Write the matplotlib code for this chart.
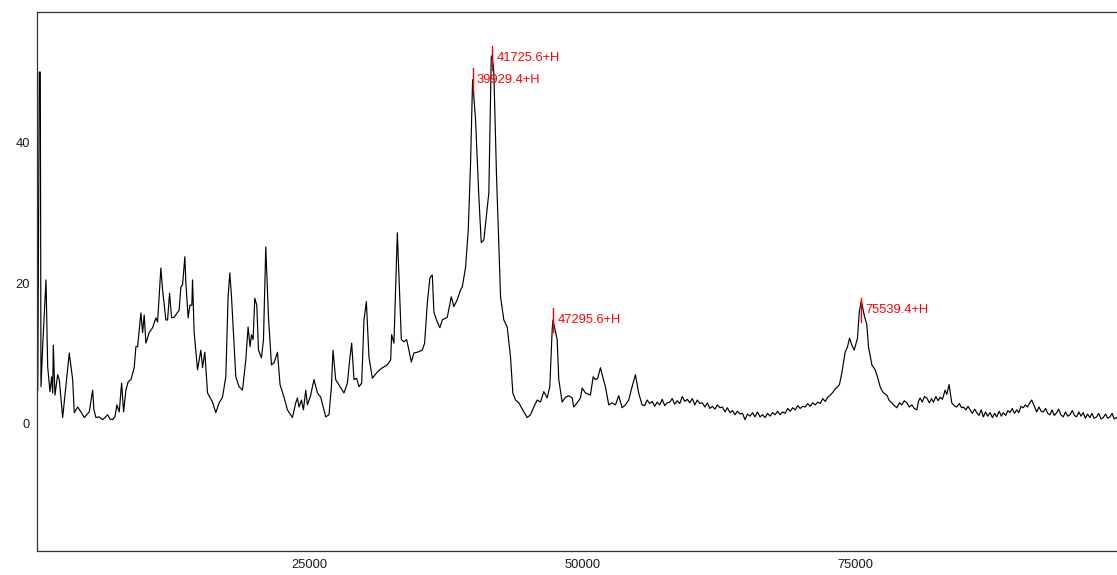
import matplotlib
matplotlib.use("Agg")
import matplotlib.pyplot as plt

plt.rcParams['font.family'] = ['Liberation Sans', 'DejaVu Sans']

# Spectrum (mass, intensity)
mass = [
    70, 211, 302, 366, 549, 824, 980, 1190, 1346, 1438, 1493, 1648, 1896, 2042, 2353,
    2958, 3269, 3416, 3727, 4029, 4331, 4789, 5101, 5220, 5403, 5678, 6016, 6227, 6474,
    6685, 6932, 7143, 7326, 7537, 7756, 7940, 8150, 8361, 8608, 8910, 9066, 9222, 9524,
    9680, 9826, 9982, 10284, 10595, 10897, 11053, 11355, 11511, 11813, 11969, 12152,
    12335, 12573, 12885, 13031, 13187, 13343, 13553, 13645, 13855, 14011, 14194, 14258,
    14405, 14716, 15018, 15174, 15385, 15632, 16090, 16392, 16694, 17005, 17308, 17518,
    17674, 17830, 18223, 18526, 18837, 19139, 19350, 19533, 19661, 19808, 19963, 20147,
    20302, 20577, 20760, 20971, 21218, 21493, 21731, 22042, 22280, 22646, 22958, 23416,
    23718, 23873, 24020, 24240, 24423, 24634, 24789, 25092, 25247, 25394, 25705, 26007,
    26465, 26767, 26987, 27134, 27381, 27775, 28141, 28452, 28663, 28846, 29057, 29304,
    29515, 29762, 29973, 30192, 30430, 30742, 31199, 31657, 32115, 32418, 32509, 32720,
    33031, 33242, 33397, 33636, 33883, 34093, 34313, 34551, 34862, 35320, 35531, 35778,
    36017, 36236, 36383, 36694, 36932, 37152, 37610, 37976, 38215, 38526, 38828, 38984,
    39286, 39532, 39744, 39929, 40201, 40504, 40723, 40961, 41419, 41639, 41726, 41877,
    42125, 42491, 42793, 43104, 43407, 43617, 43864, 44166, 44625, 44936, 45238, 45540,
    45851, 46154, 46456, 46767, 47006, 47224, 47296, 47682, 47830, 48141, 48443, 48745,
    49057, 49203, 49515, 49817, 49973, 50275, 50733, 50980, 51190, 51401, 51648, 51894,
    52106, 52409, 52720, 53022, 53324, 53635, 53938, 54240, 54551, 54853, 55155, 55466,
    55700, 55930, 56160, 56390, 56620, 56850, 57080, 57310, 57540, 57770, 58000, 58230,
    58460, 58690, 58920, 59150, 59380, 59610, 59840, 60070, 60300, 60530, 60760, 60990,
    61220, 61450, 61680, 61910, 62140, 62370, 62600, 62830, 63060, 63290, 63520, 63750,
    63980, 64210, 64440, 64670, 64900, 65130, 65360, 65590, 65820, 66050, 66280, 66510,
    66740, 66970, 67200, 67430, 67660, 67890, 68120, 68350, 68580, 68810, 69040, 69270,
    69500, 69730, 69960, 70190, 70420, 70650, 70880, 71110, 71340, 71570, 71800, 72030,
    72260, 72490, 72720, 72950, 73180, 73400, 73560, 73780, 74080, 74300, 74480, 74700,
    74910, 75210, 75380, 75460, 75560, 75824, 76071, 76219, 76529, 76832, 77042, 77289,
    77500, 77700, 77902, 78130, 78361, 78590, 78818, 79050, 79276, 79500, 79734, 79960,
    80192, 80420, 80650, 80800, 80952, 81150, 81350, 81566, 81800, 82000, 82170, 82400,
    82600, 82784, 83000, 83242, 83400, 83608, 83855, 84080, 84312, 84550, 84750, 84918,
    85150, 85350, 85531, 85750, 85950, 86145, 86350, 86550, 86749, 86950, 87150, 87363,
    87580, 87780, 87976, 88200, 88400, 88581, 88800, 89000, 89194, 89400, 89600, 89807,
    90000, 90200, 90412, 90600, 90800, 91000, 91181, 91400, 91639, 91850, 92050, 92243,
    92450, 92650, 92857, 93050, 93250, 93470, 93650, 93850, 94075, 94280, 94480, 94688,
    94900, 95100, 95301, 95500, 95700, 95906, 96100, 96300, 96520, 96700, 96900, 97133,
    97330, 97530, 97737, 97950, 98150, 98351, 98550, 98750, 98964, 99100,
]
intensity = [
    4.8, 50.1, 50.1, 5.3, 12.0, 20.5, 8.1, 4.6, 6.7, 4.4, 11.2, 4.1, 7.0, 6.3, 0.9,
    10.1, 6.3, 1.6, 2.4, 1.7, 0.9, 1.7, 4.8, 2.0, 0.9, 1.0, 0.6, 0.9, 1.3,
    0.7, 0.6, 1.0, 2.7, 1.7, 5.8, 1.7, 4.8, 6.0, 6.3, 8.0, 11.0, 11.0, 15.8,
    13.0, 15.5, 11.5, 13.0, 13.7, 15.1, 14.5, 22.2, 19.1, 14.8, 14.8, 18.6,
    15.1, 15.2, 15.9, 16.2, 19.5, 19.8, 23.8, 20.1, 15.1, 16.9, 16.9, 20.5,
    13.0, 7.7, 10.5, 8.0, 10.2, 4.4, 3.1, 1.6, 3.0, 3.8, 6.7, 18.1,
    21.5, 18.1, 6.7, 5.3, 4.8, 9.1, 13.8, 11.0, 12.7, 12.0, 17.9, 16.9,
    10.5, 9.4, 12.0, 25.2, 15.2, 8.4, 8.7, 10.2, 5.6, 3.8, 2.0, 0.9,
    3.0, 3.7, 2.4, 3.4, 2.0, 4.8, 2.7, 4.1, 5.3, 6.3, 4.4, 3.8,
    1.0, 1.3, 5.3, 10.5, 6.3, 5.3, 4.4, 5.8, 9.1, 11.5, 6.3, 6.5,
    5.3, 5.8, 14.8, 17.4, 9.5, 6.5, 7.4, 8.0, 8.4, 9.1, 12.7, 11.5,
    27.2, 18.6, 12.0, 11.7, 12.0, 10.5, 8.8, 10.1, 10.2, 10.5, 11.5, 17.2,
    20.8, 21.2, 15.9, 14.5, 13.7, 14.8, 15.2, 18.1, 16.7, 17.7, 19.1, 19.5,
    22.3, 27.6, 37.2, 49.0, 43.3, 32.3, 25.8, 26.2, 32.9, 52.2, 52.5, 50.0,
    35.2, 18.1, 14.8, 13.8, 9.5, 4.4, 3.4, 3.0, 1.7, 0.9, 1.3, 2.4,
    3.4, 3.1, 4.6, 3.7, 5.3, 13.4, 14.8, 12.0, 6.3, 3.1, 3.8, 4.0,
    3.7, 2.4, 3.0, 3.7, 5.1, 4.4, 4.1, 6.7, 6.3, 6.5, 8.0, 6.5,
    5.3, 2.7, 3.0, 2.7, 4.0, 2.3, 2.7, 3.4, 5.3, 7.0, 4.4, 2.7,
    2.6, 3.4, 2.9, 3.2, 2.5, 3.1, 2.7, 3.5, 2.6, 3.0, 3.1, 3.6,
    2.8, 3.3, 2.9, 3.9, 3.2, 3.5, 3.0, 3.6, 2.7, 3.4, 2.9, 3.0,
    2.4, 3.0, 2.2, 2.5, 2.1, 2.7, 2.3, 2.4, 1.7, 2.3, 1.6, 1.9,
    1.3, 1.8, 1.4, 1.5, 0.6, 1.4, 1.1, 1.6, 1.0, 1.7, 1.0, 1.3,
    0.9, 1.5, 1.1, 1.6, 1.3, 1.8, 1.3, 1.7, 1.5, 2.2, 1.8, 2.3,
    2.0, 2.6, 2.2, 2.5, 2.4, 2.9, 2.5, 3.0, 2.7, 3.1, 2.9, 3.6,
    3.2, 3.8, 4.1, 4.5, 5.0, 5.3, 5.6, 7.3, 10.2, 11.0, 12.2, 11.2,
    10.5, 12.2, 16.0, 16.7, 17.5, 15.5, 14.1, 11.0, 8.4, 7.7, 6.7, 5.3,
    4.6, 4.3, 4.1, 3.3, 3.0, 2.6, 2.3, 3.0, 2.7, 3.3, 3.0, 2.4,
    2.7, 2.2, 2.0, 3.2, 3.7, 3.1, 3.9, 3.7, 3.0, 3.6, 3.1, 3.9,
    3.3, 3.8, 3.5, 4.8, 4.2, 5.6, 3.0, 2.6, 2.4, 2.9, 2.3, 2.4,
    2.0, 2.5, 2.0, 1.5, 2.1, 1.6, 1.2, 2.0, 1.0, 1.7, 1.1, 1.6,
    0.9, 1.5, 1.0, 1.8, 1.1, 1.6, 1.2, 1.9, 1.6, 2.2, 1.5, 2.0,
    1.6, 2.5, 2.3, 2.7, 2.4, 3.0, 3.4, 2.6, 1.7, 2.4, 1.8, 1.7,
    2.2, 1.5, 1.3, 2.0, 1.2, 1.6, 2.1, 1.3, 1.0, 1.7, 1.1, 1.3,
    1.9, 1.2, 1.0, 1.7, 1.1, 1.6, 0.8, 1.4, 0.9, 1.5, 0.8, 1.0,
    1.5, 0.7, 0.9, 1.4, 0.8, 1.0, 1.5, 0.7, 0.9, 1.1,
]

# Annotated peaks
peak_mass = [39929.4, 41725.6, 47295.6, 75539.4]
peak_label_y = [49.0, 52.1, 14.8, 16.2]
peak_labels = ["39929.4+H", "41725.6+H", "47295.6+H", "75539.4+H"]

xticks = [25000, 50000, 75000]
yticks = [0, 20, 40]

fig = plt.figure(figsize=(11.17, 5.75), dpi=100)
ax = fig.add_axes([37 / 1117, 24 / 575, 1 - 37 / 1117, (551 - 12) / 575])

ax.plot(mass, intensity, color='black', lw=0.85, zorder=2)

for m, yl, lab in zip(peak_mass, peak_label_y, peak_labels):
    ax.plot([m, m], [yl - 1.7, yl + 1.7], color='red', lw=1.0, zorder=3)
    ax.annotate(lab, xy=(m, yl), xytext=(3.2, 0), textcoords='offset points',
                color='red', fontsize=9.3, va='center', ha='left')

ax.set_xlim(0, 99000)
ax.set_ylim(-18.1, 58.65)
ax.set_xticks(xticks)
ax.set_xticklabels([str(t) for t in xticks])
ax.set_yticks(yticks)
ax.set_yticklabels([str(t) for t in yticks])
ax.tick_params(axis='both', length=0, labelsize=9.3, colors='#1a1a1a')
ax.tick_params(axis='x', pad=6)
ax.tick_params(axis='y', pad=5)

for side in ['left', 'bottom', 'top']:
    ax.spines[side].set_color('#333333')
    ax.spines[side].set_linewidth(0.9)
ax.spines['right'].set_visible(False)

fig.savefig('out.png', dpi=100)
